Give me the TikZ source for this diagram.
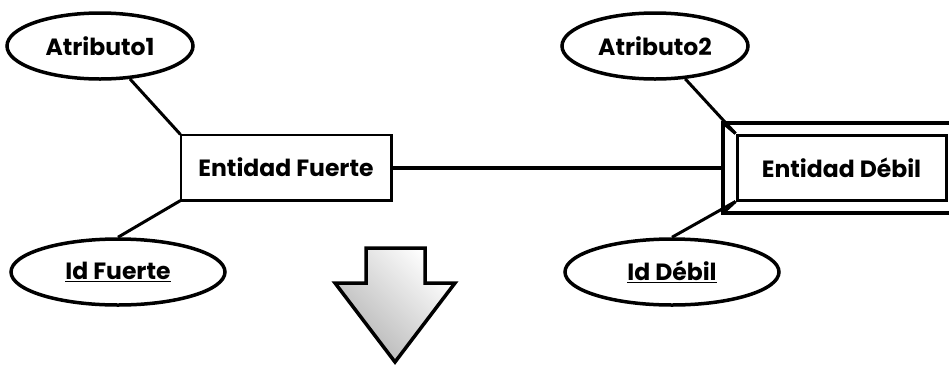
\documentclass[tikz,border=0pt]{standalone}
\usepackage{fontspec}
\setmainfont{Poppins}
\usetikzlibrary{shapes.geometric}

\tikzset{
    atributo/.style={ellipse, draw, line width=3.5pt, inner sep=0pt, font=\bfseries\fontsize{23.5}{26}\selectfont},
    entidad/.style={rectangle, draw, line width=1.2pt, inner sep=0pt, font=\bfseries\fontsize{23.5}{26}\selectfont},
    enlace/.style={line width=3pt},
}

\begin{document}
\begin{tikzpicture}[x=1pt, y=-1pt]
    \useasboundingbox (0, 0) rectangle (949, 365);

    % entidad fuerte
    \node[entidad, minimum width=210pt, minimum height=65pt] (fuerte) at (286, 167.5) {Entidad Fuerte};
    \draw[line width=2.8pt] (fuerte.north east) -- (fuerte.south east) -- (fuerte.south west);
    \node[atributo, minimum width=186pt, minimum height=66pt] (atr1) at (100, 46) {Atributo1};
    \node[atributo, minimum width=214pt, minimum height=66pt] (idf) at (118, 272) {\underline{Id Fuerte}};
    \draw[enlace] (atr1) -- (fuerte.north west);
    \draw[enlace] (idf.north) -- (fuerte.south west);

    % entidad debil
    \node[entidad, line width=3pt, minimum width=209pt, minimum height=65pt] (debil) at (841.5, 167.5) {Entidad D\'ebil};
    \coordinate (marcoNO) at (723, 123);
    \coordinate (marcoSO) at (723, 213);
    \draw[line width=3.2pt] (960, 123) -- (marcoNO) -- (marcoSO) -- (960, 213);
    \draw[enlace] (marcoNO) -- (debil.north west);
    \draw[enlace] (marcoSO) -- (debil.south west);
    \node[atributo, minimum width=186pt, minimum height=66pt] (atr2) at (655, 46) {Atributo2};
    \node[atributo, minimum width=214pt, minimum height=66pt] (idd) at (672, 272) {\underline{Id D\'ebil}};
    \draw[enlace] (atr2) -- (debil.north west);
    \draw[enlace] (idd.north) -- (debil.south west);

    % relacion
    \draw[line width=4pt] (fuerte.east) -- (marcoNO |- fuerte.east);

    % flecha
    \shadedraw[line width=3.5pt, line join=miter, left color=gray!60, right color=white, shading angle=135]
        (366, 248) -- (425, 248) -- (425, 283) -- (455, 283) -- (395, 362) -- (335, 283) -- (366, 283) -- cycle;
\end{tikzpicture}
\end{document}
